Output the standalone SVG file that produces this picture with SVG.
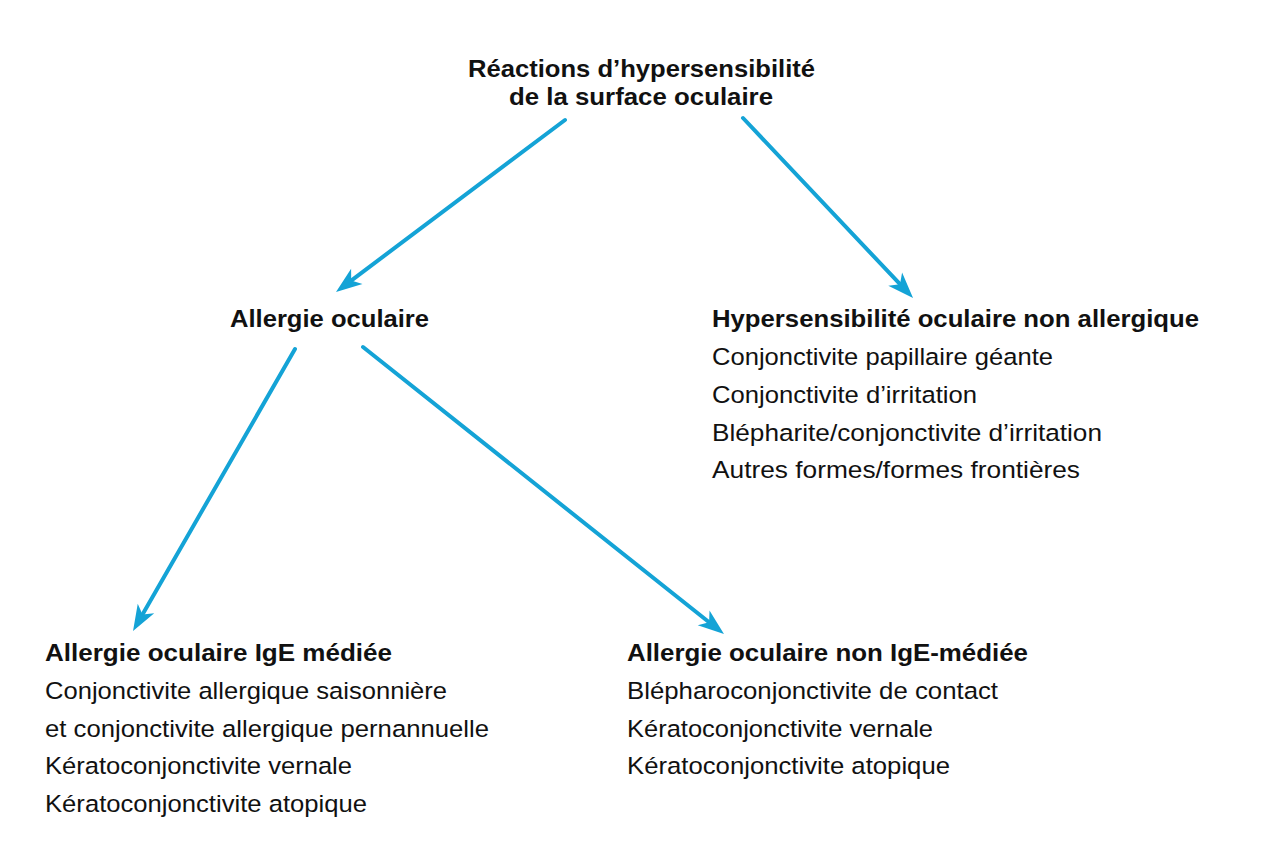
<svg xmlns="http://www.w3.org/2000/svg" width="1280" height="852" viewBox="0 0 1280 852">
  <style>
    .b { font-family: "Liberation Sans", Arial, sans-serif; font-weight: bold; font-size: 24px; fill: #111; }
    .r { font-family: "Liberation Sans", Arial, sans-serif; font-size: 24.5px; fill: #111; }
    .c { stroke: #14a3d6; stroke-width: 4; fill: none; stroke-linecap: round; marker-end: url(#ah); }
  </style>
  <defs>
    <marker id="ah" markerUnits="userSpaceOnUse" viewBox="-10 -12 32 24" refX="0" refY="0" markerWidth="32" markerHeight="24" orient="auto" overflow="visible">
      <path d="M19,0 L-7,-9.5 L0,0 L-7,9.5 Z" fill="#14a3d6"/>
    </marker>
  </defs>
  <rect width="1280" height="852" fill="#fff"/>

  <g id="connectors">
    <line class="c" x1="565" y1="120" x2="351.2" y2="280.6"/>
    <line class="c" x1="743" y1="118" x2="900" y2="284.2"/>
    <line class="c" x1="295" y1="349" x2="142.5" y2="614.5"/>
    <line class="c" x1="363" y1="347" x2="709.1" y2="622.2"/>
  </g>

  <g id="root">
    <text class="b" x="468" y="77" textLength="347" lengthAdjust="spacingAndGlyphs">Réactions d’hypersensibilité</text>
    <text class="b" x="509" y="105" textLength="264" lengthAdjust="spacingAndGlyphs">de la surface oculaire</text>
  </g>

  <g id="allergie">
    <text class="b" x="230" y="327" textLength="199" lengthAdjust="spacingAndGlyphs">Allergie oculaire</text>
  </g>

  <g id="non-allergique">
    <text class="b" x="712" y="327" textLength="487" lengthAdjust="spacingAndGlyphs">Hypersensibilité oculaire non allergique</text>
    <text class="r" x="712" y="365" textLength="341" lengthAdjust="spacingAndGlyphs">Conjonctivite papillaire géante</text>
    <text class="r" x="712" y="403" textLength="265" lengthAdjust="spacingAndGlyphs">Conjonctivite d’irritation</text>
    <text class="r" x="712" y="441" textLength="390" lengthAdjust="spacingAndGlyphs">Blépharite/conjonctivite d’irritation</text>
    <text class="r" x="712" y="478" textLength="368" lengthAdjust="spacingAndGlyphs">Autres formes/formes frontières</text>
  </g>

  <g id="ige">
    <text class="b" x="45" y="661" textLength="347" lengthAdjust="spacingAndGlyphs">Allergie oculaire IgE médiée</text>
    <text class="r" x="45" y="699" textLength="402" lengthAdjust="spacingAndGlyphs">Conjonctivite allergique saisonnière</text>
    <text class="r" x="45" y="737" textLength="444" lengthAdjust="spacingAndGlyphs">et conjonctivite allergique pernannuelle</text>
    <text class="r" x="45" y="774" textLength="307" lengthAdjust="spacingAndGlyphs">Kératoconjonctivite vernale</text>
    <text class="r" x="45" y="812" textLength="322" lengthAdjust="spacingAndGlyphs">Kératoconjonctivite atopique</text>
  </g>

  <g id="non-ige">
    <text class="b" x="627" y="661" textLength="401" lengthAdjust="spacingAndGlyphs">Allergie oculaire non IgE-médiée</text>
    <text class="r" x="627" y="699" textLength="371" lengthAdjust="spacingAndGlyphs">Blépharoconjonctivite de contact</text>
    <text class="r" x="627" y="737" textLength="306" lengthAdjust="spacingAndGlyphs">Kératoconjonctivite vernale</text>
    <text class="r" x="627" y="774" textLength="323" lengthAdjust="spacingAndGlyphs">Kératoconjonctivite atopique</text>
  </g>
</svg>
